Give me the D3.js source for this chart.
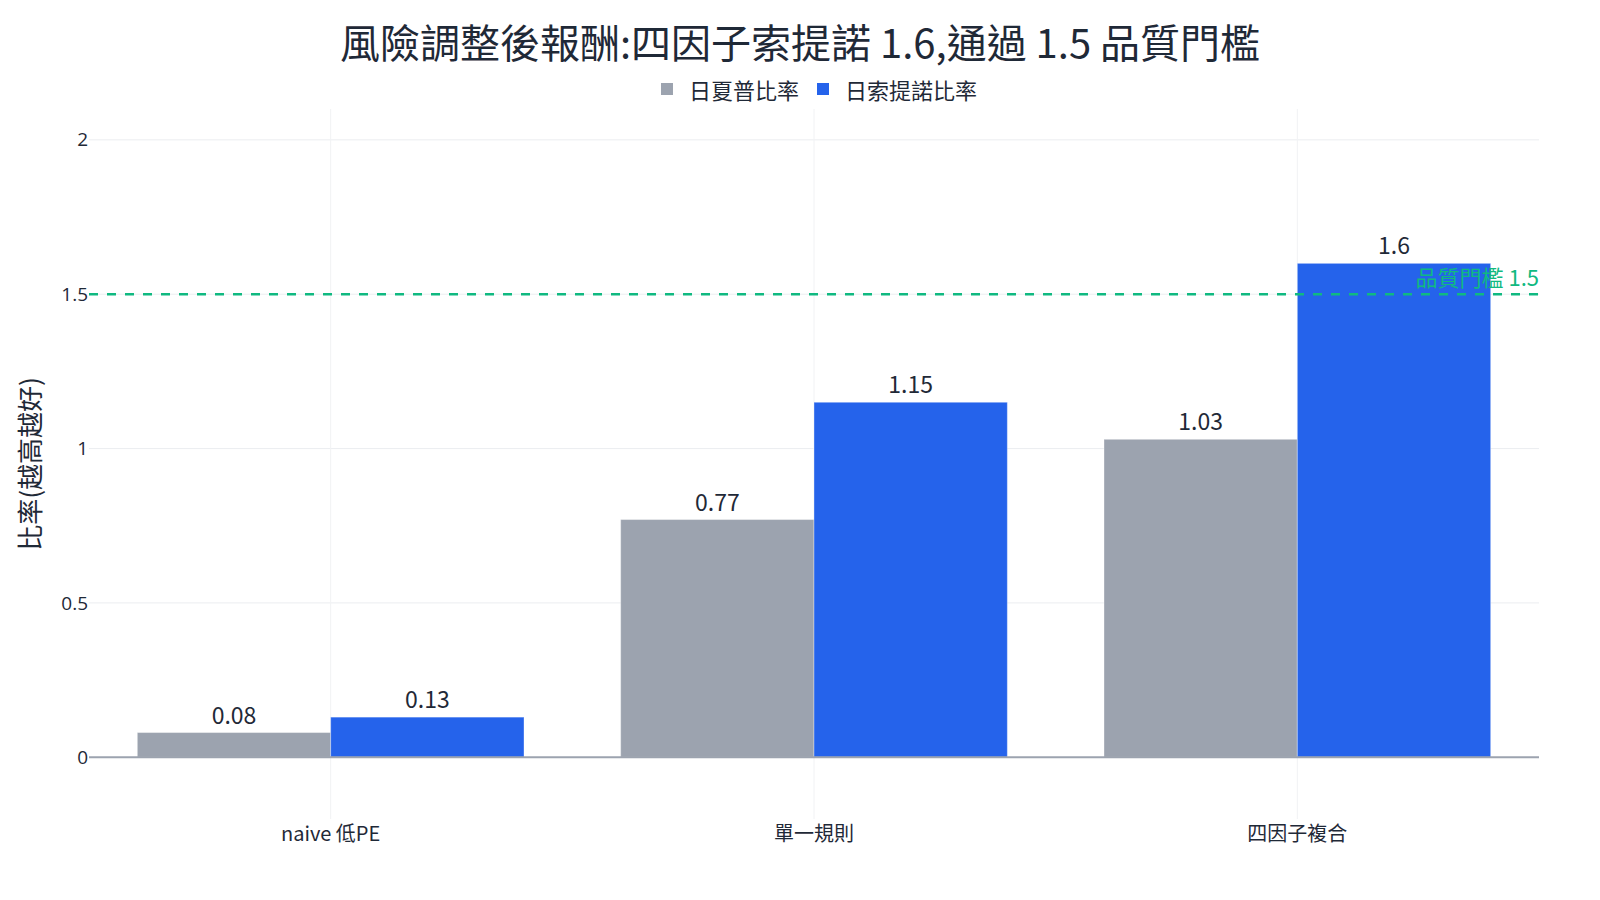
<!DOCTYPE html>
<html>
<head>
<meta charset="utf-8">
<script src="https://cdn.jsdelivr.net/npm/d3@7"></script>
<style>
  html, body { margin: 0; padding: 0; background: #fff; }
  svg { display: block; }
</style>
</head>
<body>
<script>
// data
const categories = ['naive 低PE', '單一規則', '四因子複合'];
const seriesNames = ['日夏普比率', '日索提諾比率'];
const sharpeValues = [0.08, 0.77, 1.03];
const sortinoValues = [0.13, 1.15, 1.6];
const yTickValues = [0, 0.5, 1, 1.5, 2];
const threshold = 1.5;
const thresholdLabel = '品質門檻 1.5';
const titleText = '風險調整後報酬:四因子索提諾 1.6,通過 1.5 品質門檻';
const yAxisTitle = '比率(越高越好)';

const width = 1600;
const height = 900;
const margin = { top: 109, right: 61, bottom: 81, left: 89 };
const cjk = '"Noto Sans CJK TC", "Noto Sans", sans-serif';
const colors = ['#9ca3af', '#2563eb'];
const textColor = '#1f2937';

const rows = categories.map((c, i) => ({
  category: c,
  values: [sharpeValues[i], sortinoValues[i]]
}));

const svg = d3.select('body')
  .append('svg')
  .attr('width', width)
  .attr('height', height);

const x = d3.scaleBand()
  .domain(categories)
  .range([margin.left, width - margin.right])
  .padding(0);

const xSub = d3.scaleBand()
  .domain(seriesNames)
  .range([0, x.bandwidth()])
  .paddingInner(0)
  .paddingOuter(0.25);

const y = d3.scaleLinear()
  .domain([-0.2, 2.1])
  .range([height - margin.bottom, margin.top]);

// grid
const grid = svg.append('g');
grid.selectAll('.hgrid')
  .data(yTickValues.filter(d => d !== 0))
  .join('line')
  .attr('class', 'hgrid')
  .attr('x1', margin.left)
  .attr('x2', width - margin.right)
  .attr('y1', d => y(d))
  .attr('y2', d => y(d))
  .attr('stroke', '#ebedf0')
  .attr('stroke-width', 1);

grid.selectAll('.vgrid')
  .data(categories)
  .join('line')
  .attr('class', 'vgrid')
  .attr('x1', d => x(d) + x.bandwidth() / 2)
  .attr('x2', d => x(d) + x.bandwidth() / 2)
  .attr('y1', margin.top)
  .attr('y2', height - margin.bottom)
  .attr('stroke', '#f1f2f4')
  .attr('stroke-width', 1);

// bars
const groups = svg.append('g')
  .selectAll('g')
  .data(rows)
  .join('g')
  .attr('transform', d => `translate(${x(d.category)},0)`);

groups.selectAll('rect')
  .data(d => d.values.map((v, i) => ({ series: seriesNames[i], value: v, i })))
  .join('rect')
  .attr('x', d => xSub(d.series))
  .attr('width', xSub.bandwidth())
  .attr('y', d => y(d.value))
  .attr('height', d => y(0) - y(d.value))
  .attr('fill', d => colors[d.i])
  .attr('stroke', 'rgba(255,255,255,0.35)')
  .attr('stroke-width', 1);

groups.selectAll('text')
  .data(d => d.values.map((v, i) => ({ series: seriesNames[i], value: v })))
  .join('text')
  .attr('x', d => xSub(d.series) + xSub.bandwidth() / 2)
  .attr('y', d => y(d.value) - 9)
  .attr('text-anchor', 'middle')
  .attr('font-family', cjk)
  .attr('font-size', 23)
  .attr('fill', textColor)
  .text(d => d.value);

// zero line
svg.append('line')
  .attr('x1', margin.left)
  .attr('x2', width - margin.right)
  .attr('y1', y(0))
  .attr('y2', y(0))
  .attr('stroke', '#9ca3af')
  .attr('stroke-width', 2);

// threshold
svg.append('line')
  .attr('x1', margin.left)
  .attr('x2', width - margin.right)
  .attr('y1', y(threshold))
  .attr('y2', y(threshold))
  .attr('stroke', '#10b981')
  .attr('stroke-width', 2.5)
  .attr('stroke-dasharray', '9,9');

svg.append('text')
  .attr('x', width - margin.right)
  .attr('y', y(threshold) - 8)
  .attr('text-anchor', 'end')
  .attr('font-family', cjk)
  .attr('font-size', 22)
  .attr('fill', '#10b981')
  .text(thresholdLabel);

// axes
const yAxis = svg.append('g')
  .attr('transform', `translate(${margin.left},0)`)
  .call(d3.axisLeft(y).tickValues(yTickValues).tickSize(0).tickPadding(1).tickFormat(d3.format('~g')));
yAxis.select('.domain').remove();
yAxis.selectAll('text')
  .attr('font-family', '"Open Sans", sans-serif')
  .attr('font-size', 19)
  .attr('fill', textColor);

const xAxis = svg.append('g')
  .attr('transform', `translate(0,${height - margin.bottom})`)
  .call(d3.axisBottom(x).tickSize(0).tickPadding(8));
xAxis.select('.domain').remove();
xAxis.selectAll('text')
  .attr('font-family', cjk)
  .attr('font-size', 20)
  .attr('fill', textColor);

svg.append('text')
  .attr('transform', `translate(28,${(margin.top + height - margin.bottom) / 2}) rotate(-90)`)
  .attr('text-anchor', 'middle')
  .attr('dominant-baseline', 'central')
  .attr('font-family', cjk)
  .attr('font-size', 26)
  .attr('fill', textColor)
  .text(yAxisTitle);

// title
svg.append('text')
  .attr('x', width / 2)
  .attr('y', 41)
  .attr('text-anchor', 'middle')
  .attr('dominant-baseline', 'central')
  .attr('font-family', cjk)
  .attr('font-size', 40)
  .attr('fill', textColor)
  .text(titleText);

// legend
const legend = svg.append('g');
const items = legend.selectAll('g')
  .data(seriesNames)
  .join('g');
items.append('rect')
  .attr('width', 12)
  .attr('height', 12)
  .attr('y', -6)
  .attr('fill', (d, i) => colors[i]);
items.append('text')
  .attr('x', 28)
  .attr('dominant-baseline', 'central')
  .attr('font-family', cjk)
  .attr('font-size', 22)
  .attr('fill', textColor)
  .text(d => d);

const itemGap = 18;
let offset = 0;
items.each(function () {
  const g = d3.select(this);
  g.attr('transform', `translate(${offset},0)`);
  offset += 28 + g.select('text').node().getComputedTextLength() + itemGap;
});
const legendWidth = offset - itemGap;
const legendCenter = (margin.left + width - margin.right) / 2 + 5;
legend.attr('transform', `translate(${legendCenter - legendWidth / 2},89)`);
</script>
</body>
</html>
